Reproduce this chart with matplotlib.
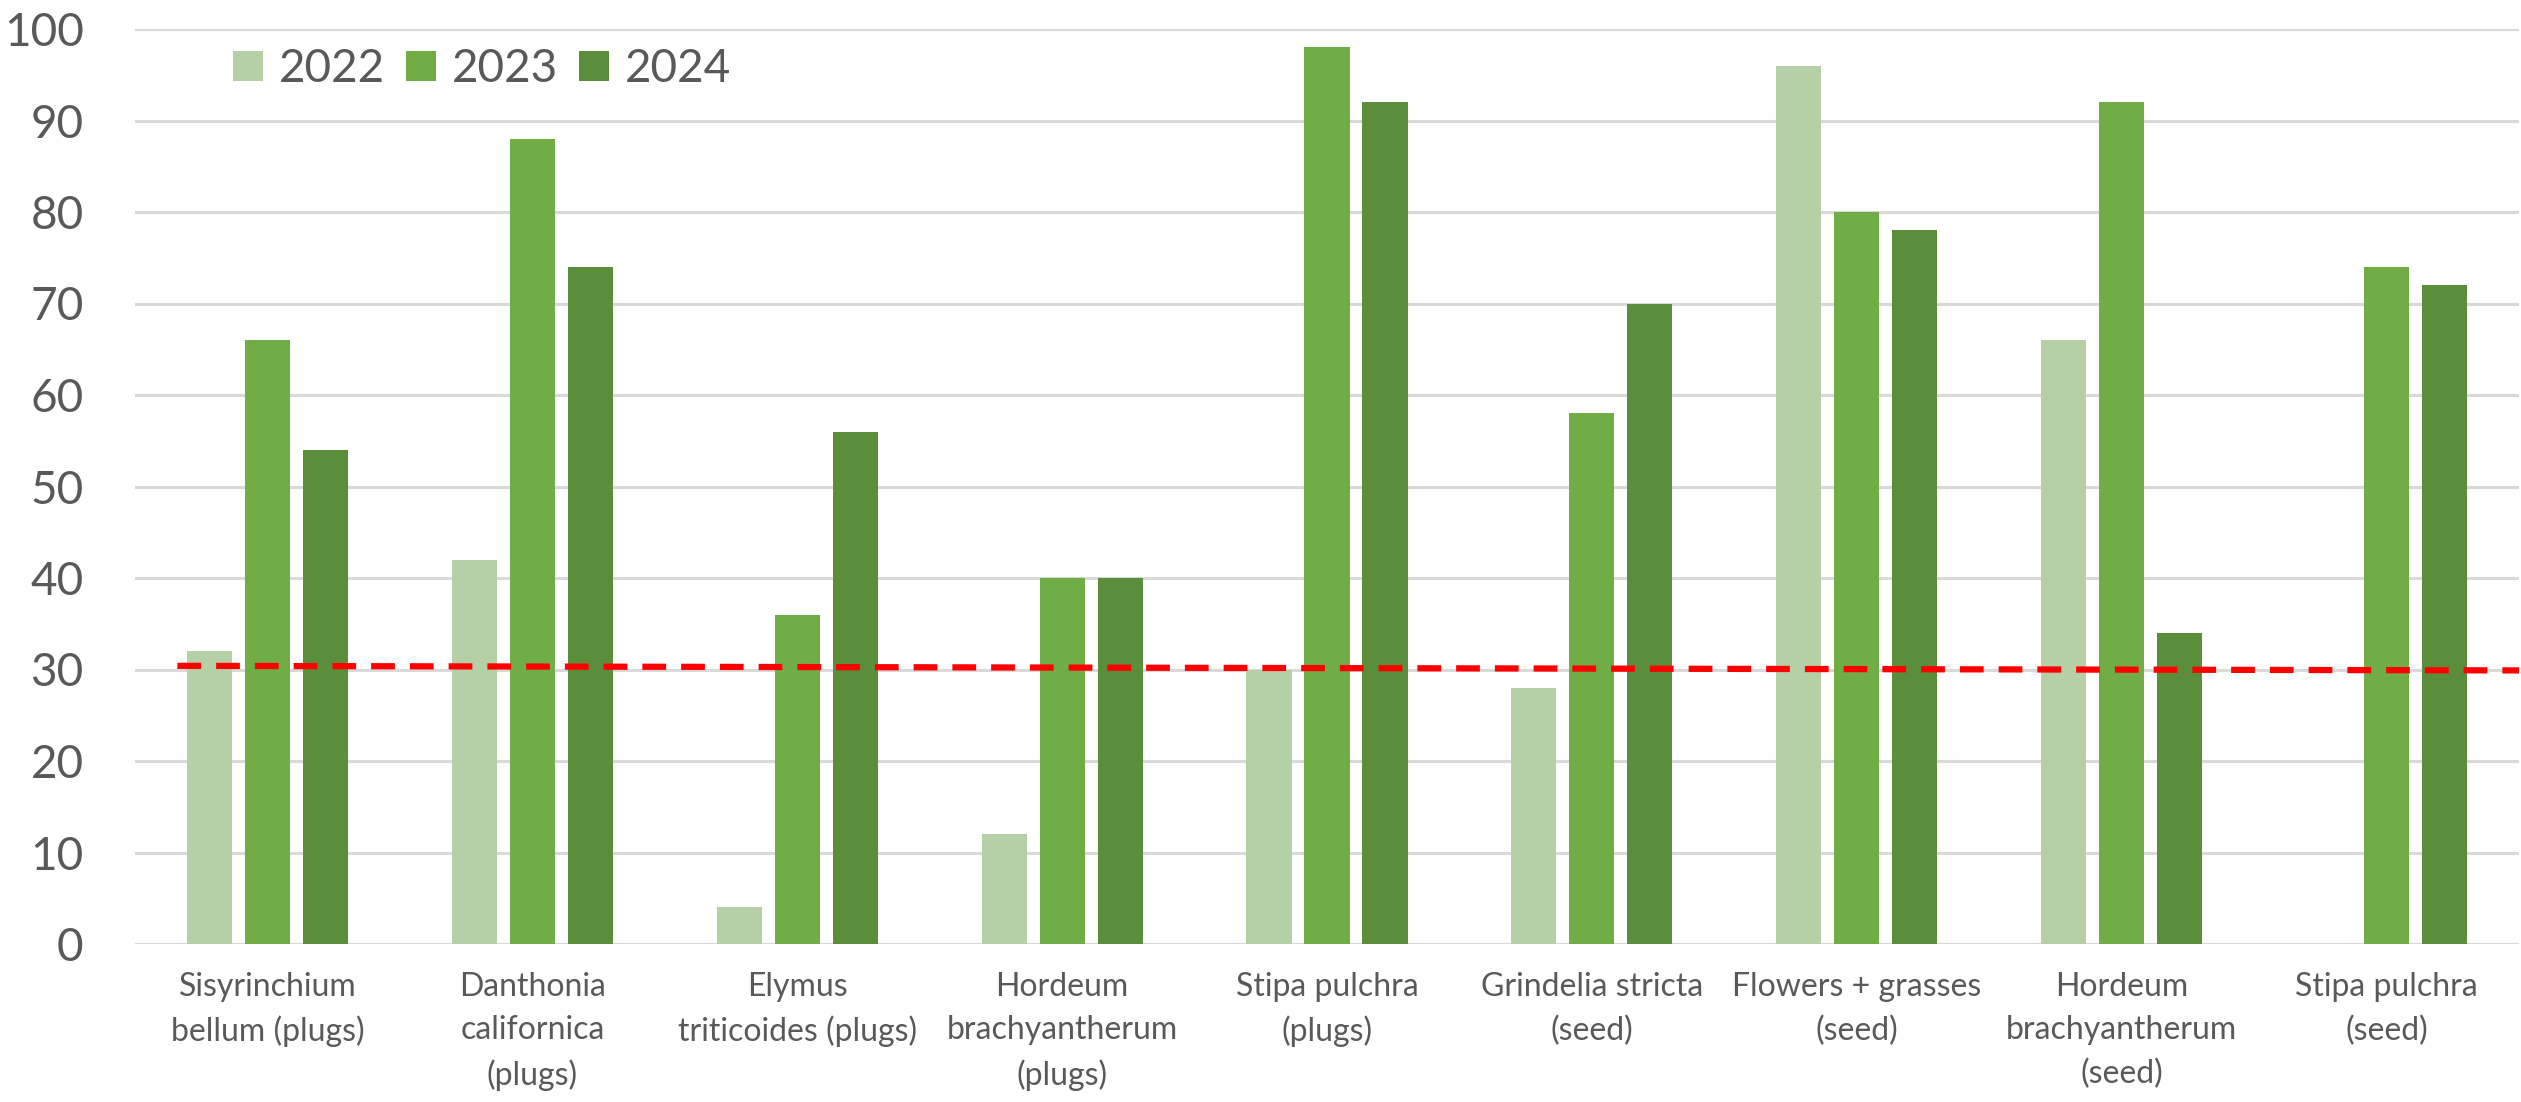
import matplotlib
matplotlib.use('Agg')
import matplotlib.pyplot as plt
import numpy as np

plt.rcParams['font.family'] = ['Lato', 'DejaVu Sans']

# ─── Data ─────────────────────────────────────────────────────────────────────
categories = ['Sisyrinchium\nbellum (plugs)', 'Danthonia\ncalifornica\n(plugs)',
              'Elymus\ntriticoides (plugs)', 'Hordeum\nbrachyantherum\n(plugs)',
              'Stipa pulchra\n(plugs)', 'Grindelia stricta\n(seed)',
              'Flowers + grasses\n(seed)', 'Hordeum\nbrachyantherum\n(seed)',
              'Stipa pulchra\n(seed)']
years = ['2022', '2023', '2024']
v2022 = [32, 42, 4, 12, 30, 28, 96, 66, 0]
v2023 = [66, 88, 36, 40, 98, 58, 80, 92, 74]
v2024 = [54, 74, 56, 40, 92, 70, 78, 34, 72]
trend = [30.4, 29.9]   # red dashed line, left end / right end

colors = ['#B5CFA7', '#70AD47', '#5B8E3A']
TXT = '#595959'

# ─── Figure ───────────────────────────────────────────────────────────────────
W, H = 2521, 1102
fig = plt.figure(figsize=(W / 100, H / 100), dpi=100)
ax = fig.add_axes([135 / W, 1 - 944 / H, (2519 - 135) / W, (944 - 29) / H])

x = np.arange(len(categories))
w, step = 0.17, 0.219
for i, (vals, yr) in enumerate(zip([v2022, v2023, v2024], years)):
    ax.bar(x + (i - 1) * step, vals, w, color=colors[i], label=yr, zorder=3)

ax.plot([-0.34, len(categories) - 0.5], trend, color='#FF0000', lw=4.5,
        ls=(0, (3.8, 2.4)), zorder=4)

ax.set_xlim(-0.5, len(categories) - 0.5)
ax.set_ylim(0, 100)
ax.set_yticks(range(0, 101, 10))
ax.yaxis.grid(True, color='#D9D9D9', lw=2.2, zorder=0)
ax.set_axisbelow(True)
for s in ax.spines.values():
    s.set_visible(False)
ax.tick_params(axis='y', length=0, pad=37, labelsize=33, labelcolor=TXT)
ax.tick_params(axis='x', length=0, pad=20, labelsize=23, labelcolor=TXT)
ax.set_xticks(x)
ax.set_xticklabels(categories, linespacing=1.55)

leg = fig.legend(*ax.get_legend_handles_labels(), loc='center left',
                 bbox_to_anchor=(210 / W, 1 - 69 / H), bbox_transform=fig.transFigure,
                 ncol=3, frameon=False, borderpad=0, fontsize=33,
                 handlelength=0.65, handleheight=0.65, handletextpad=0.35,
                 columnspacing=0.46)
for t in leg.get_texts():
    t.set_color(TXT)

fig.savefig('out.png', dpi=100, facecolor='white')
